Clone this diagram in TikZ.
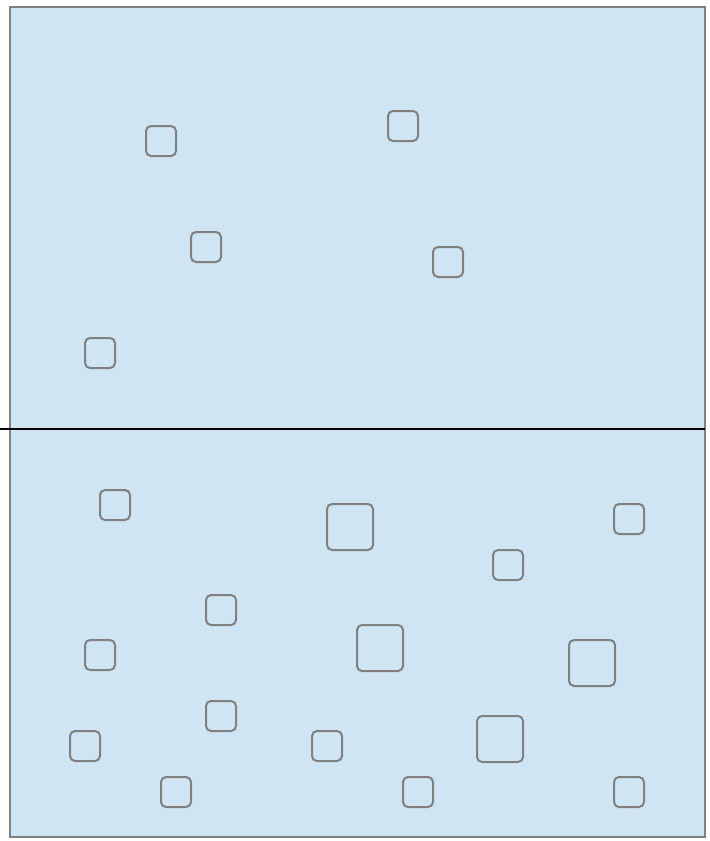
\documentclass[tikz,border=0pt]{standalone}
\usetikzlibrary{positioning}
\definecolor{Pane}{HTML}{D0E5F3}
\definecolor{Edge}{HTML}{808080}

\begin{document}
\begin{tikzpicture}[x=0.03cm,y=-0.03cm,
    tile/.style={draw=Edge,line width=0.06cm,rounded corners=0.15cm,
      minimum size=0.9cm,inner sep=0pt},
    bigtile/.style={tile,minimum size=1.38cm}]
    \useasboundingbox (0,0) rectangle (710,841);
    \draw[Edge,fill=Pane,line width=0.05cm] (10,7) rectangle (705,837);
    \coordinate (split west) at (0,429);
    \coordinate (split east) at (705,429);
    \draw[black,line width=0.05cm] (split west)--(split east);
    % upper pane
    \foreach \x/\y/\n in {161/141/1,403/126/2,206/247/3,448/262/4,100/353/5}
      \node[tile] (up\n) at (\x,\y) {};
    % lower pane
    \foreach \x/\y/\n in {115/505/1,629/519/2,508/565/3,221/610/4,100/655/5,
      221/716/6,85/746/7,327/746/8,176/792/9,418/792/10,629/792/11}
      \node[tile] (low\n) at (\x,\y) {};
    \foreach \x/\y/\n in {350/527/1,380/648/2,592/663/3,500/739/4}
      \node[bigtile] (lowbig\n) at (\x,\y) {};
  \end{tikzpicture}
\end{document}
